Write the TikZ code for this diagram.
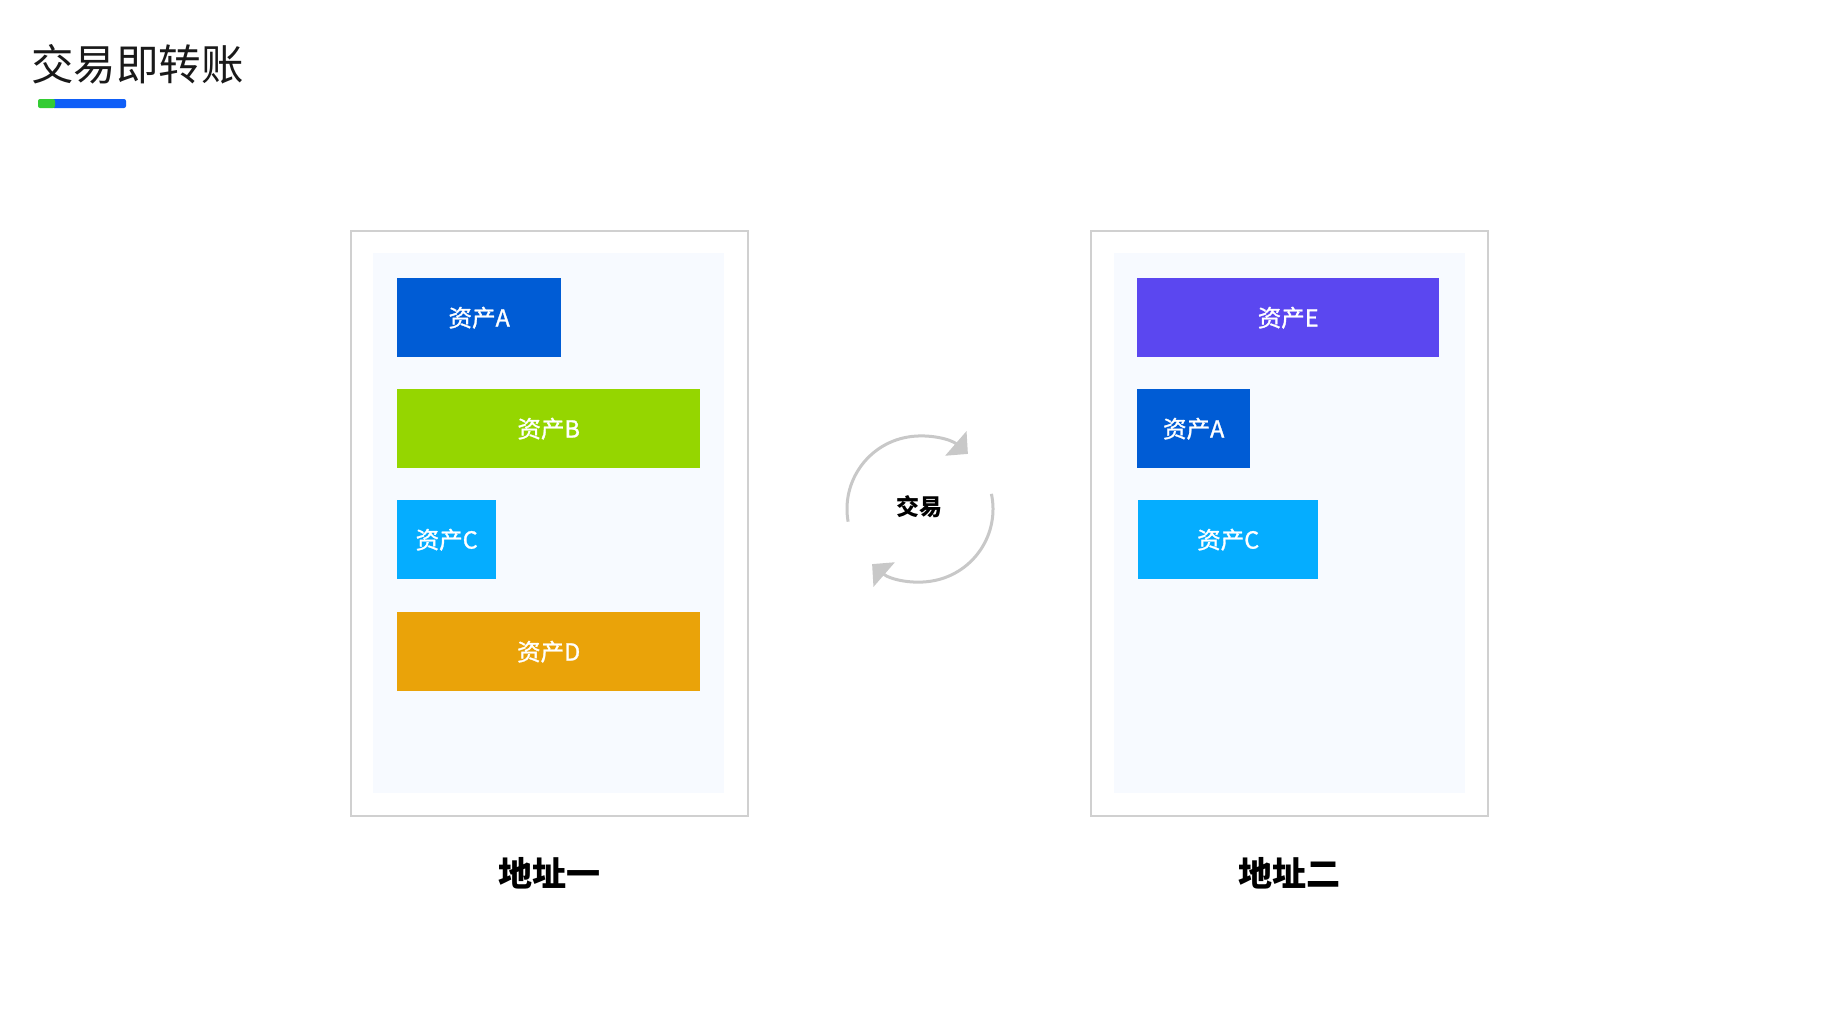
\documentclass[tikz,border=0pt]{standalone}
\usepackage{fontspec}
\setmainfont{Noto Sans CJK SC}
\newfontfamily\assetfont[FakeBold=1.2]{Noto Sans CJK SC}
\usetikzlibrary{arrows.meta,positioning}
\definecolor{assetA}{RGB}{0,92,213}
\definecolor{assetB}{RGB}{149,214,0}
\definecolor{assetC}{RGB}{5,173,255}
\definecolor{assetD}{RGB}{234,163,9}
\definecolor{assetE}{RGB}{91,71,240}
\definecolor{panelbg}{RGB}{247,250,255}
\definecolor{framegray}{RGB}{208,208,208}
\definecolor{arrowgray}{RGB}{200,200,200}
\definecolor{bargreen}{RGB}{51,204,51}
\definecolor{barblue}{RGB}{15,94,247}
\newcommand{\assetbox}[6]{\node[asset, fill=#2, minimum width=#5pt] (#1) at (#3,#4) {资产#6};}
\tikzset{
  addrframe/.style={draw=framegray, line width=2pt, fill=white, minimum width=397pt, minimum height=585pt, inner sep=0pt},
  panel/.style={fill=panelbg, minimum width=351pt, minimum height=540pt, inner sep=0pt},
  asset/.style={anchor=north west, minimum height=79pt, inner sep=0pt, text=white, font=\assetfont\fontsize{23.5}{27}\selectfont},
  addrlabel/.style={inner sep=0pt, font=\fontsize{34}{38}\selectfont\bfseries},
  cyclearrow/.style={arrowgray, line width=3pt, -{Triangle[length=16pt,width=32pt]}}
}

\begin{document}
\begin{tikzpicture}[x=1pt,y=-1pt]
\fill[white] (0,0) rectangle (1821,1010);
\useasboundingbox (0,0) rectangle (1821,1010);
% title
\node[anchor=west, inner sep=0pt, text=black!90, font=\fontsize{42.5}{46}\selectfont] (title) at (31,64) {交易即转账};
\fill[barblue, rounded corners=2pt] (52,99) rectangle (126,108);
\fill[bargreen, rounded corners=2pt] (38,99) rectangle (55,108);

% address one
\node[addrframe] (addrone) at (549,523.5) {};
\node[panel] (panelone) at (548.5,523) {};
\assetbox{aone}{assetA}{397}{278}{164}{A}
\assetbox{bone}{assetB}{397}{389}{303}{B}
\assetbox{cone}{assetC}{397}{500}{99}{C}
\assetbox{done}{assetD}{397}{612}{303}{D}
\node[addrlabel, below=40pt of addrone] (labelone) {地址一};

% address two
\node[addrframe] (addrtwo) at (1289.5,523.5) {};
\node[panel] (paneltwo) at (1289,523) {};
\assetbox{etwo}{assetE}{1137}{278}{302}{E}
\assetbox{atwo}{assetA}{1137}{389}{113}{A}
\assetbox{ctwo}{assetC}{1138}{500}{180}{C}
\node[addrlabel, below=40pt of addrtwo] (labeltwo) {地址二};

% trade
\coordinate (hub) at (920,509);
\node[font=\fontsize{23}{27}\selectfont\bfseries, inner sep=0pt] (trade) at (919,507) {交易};
\draw[cyclearrow] ([shift={(170:73)}]hub) arc[start angle=170, end angle=311, radius=73];
\draw[cyclearrow] ([shift={(-12:73)}]hub) arc[start angle=-12, end angle=131, radius=73];
\end{tikzpicture}
\end{document}
